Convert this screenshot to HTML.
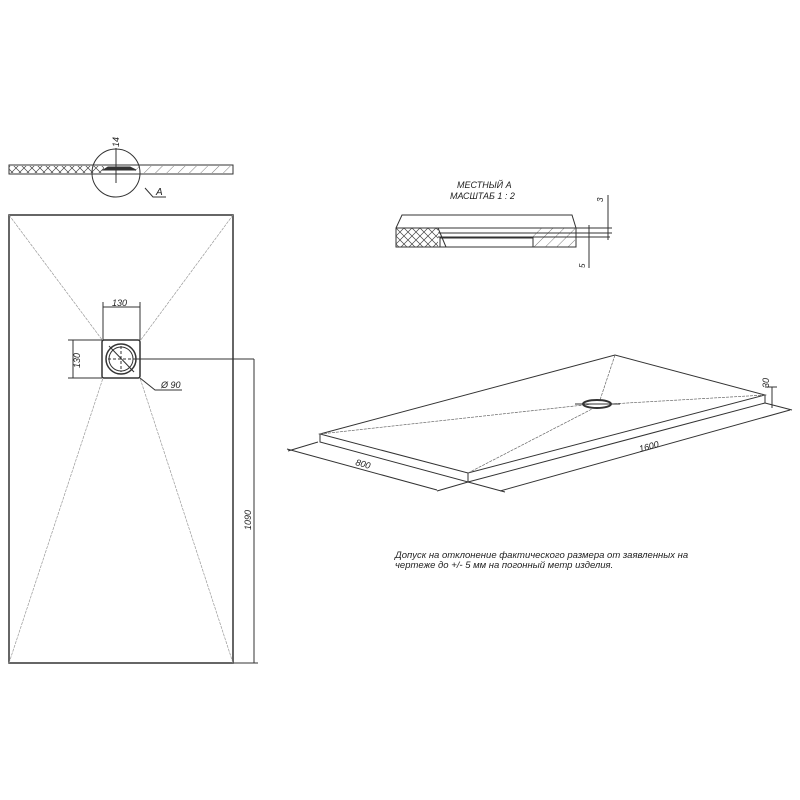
<!DOCTYPE html>
<html><head><meta charset="utf-8"><style>
html,body{margin:0;padding:0;background:#fff;width:800px;height:800px;overflow:hidden}
text{font-family:"Liberation Sans",sans-serif;font-style:italic;fill:#222}
</style></head><body>
<svg width="800" height="800" viewBox="0 0 800 800" xmlns="http://www.w3.org/2000/svg">
<defs>
<pattern id="xh" width="8" height="8" patternUnits="userSpaceOnUse">
<path d="M0 0L8 8M8 0L0 8" stroke="#444" stroke-width="0.7"/></pattern>
<pattern id="sh" width="8" height="8" patternUnits="userSpaceOnUse" patternTransform="rotate(45)">
<path d="M0 0V8" stroke="#444" stroke-width="0.7"/></pattern>
</defs>
<g fill="none" stroke="#333" stroke-width="1">
<!-- section -->
<rect x="9" y="165" width="224" height="9" fill="#fff"/>
<rect x="9" y="166" width="95" height="7" fill="url(#xh)" stroke="none"/>
<rect x="135" y="166" width="98" height="7" fill="url(#sh)" stroke="none"/>
<path d="M9 165H233M9 174H233"/>
<path d="M103 170L108 167H130L136 170Z" fill="#333"/>
<circle cx="116" cy="173" r="24"/>
<path d="M116 148V183"/>
<path d="M145 188L153 197H166"/>
<!-- plan -->
<rect x="9" y="215" width="224" height="448" stroke-width="1.5"/>
<g stroke="#999" stroke-width="0.7" stroke-dasharray="3 1">
<path d="M9 215L103 341M233 215L140 341M9 663L103 378M233 663L140 378"/>
</g>
<rect x="102" y="340" width="38" height="38" rx="2" stroke-width="1.5"/>
<circle cx="121" cy="359" r="15" stroke-width="1.5"/>
<circle cx="121" cy="359" r="12"/>
<path d="M108 359H134M121 346V372" stroke-dasharray="3 2"/>
<path d="M109 346L134 372"/>
<path d="M103 302V340M140 302V340M103 307H140"/>
<path d="M68 340H102M68 378H102M73 340V378"/>
<path d="M134 359H254M140 378L155 390H182"/>
<path d="M233 663H258M254 359V663"/>
<!-- detail -->
<path d="M402 215H572L576 228V247H396V228Z"/>
<rect x="396" y="228" width="42" height="19" fill="url(#xh)" stroke="none"/>
<rect x="533" y="228" width="42" height="19" fill="url(#sh)" stroke="none"/>
<path d="M396 228H576M438 233H576M438 237H610M440 247V238H533V247M438 228L446 247"/>
<path d="M589 225V268M608 195V240M576 233H612M576 228H612"/>
<!-- iso -->
<path d="M320 434L615 355L765 395L468 473Z" fill="#fff"/>
<path d="M320 434V442L468 482V473M468 482L765 403V395"/>
<g stroke="#666" stroke-width="0.7" stroke-dasharray="3 1">
<path d="M320 434L593 404M615 355L600 400M765 395L610 404M468 473L592 409"/>
</g>
<ellipse cx="597" cy="404" rx="14" ry="4" stroke-width="2"/>
<path d="M575 404L620 404"/>
<path d="M287 449L437 490M318 442L288 451M468 482L437 491M500 491L790 410M468 482L505 492M765 403L792 410M772 387V408M765 387H777"/>
</g>
<text x="0" y="0" font-size="9" transform="translate(119 147) rotate(-90)">14</text>
<text x="156" y="195" font-size="10">A</text>
<text x="112" y="306" font-size="9">130</text>
<text x="0" y="0" font-size="9" transform="translate(80 368) rotate(-90)">130</text>
<text x="161" y="388" font-size="9">Ø 90</text>
<text x="0" y="0" font-size="9" transform="translate(251 530) rotate(-90)">1090</text>
<text x="457" y="188" font-size="9">МЕСТНЫЙ А</text>
<text x="450" y="199" font-size="9">МАСШТАБ 1 : 2</text>
<text x="0" y="0" font-size="8" transform="translate(603 202) rotate(-90)">3</text>
<text x="0" y="0" font-size="8" transform="translate(585 268) rotate(-90)">5</text>
<text x="0" y="0" font-size="9" transform="translate(769 388) rotate(-90)">30</text>
<text x="0" y="0" font-size="9" transform="translate(355 465) rotate(15)">800</text>
<text x="0" y="0" font-size="9" transform="translate(640 452) rotate(-15)">1600</text>
<text x="395" y="558" font-size="9.5">Допуск на отклонение фактического размера от заявленных на</text>
<text x="395" y="568" font-size="9.5">чертеже до +/- 5 мм на погонный метр изделия.</text>
</svg>
</body></html>
